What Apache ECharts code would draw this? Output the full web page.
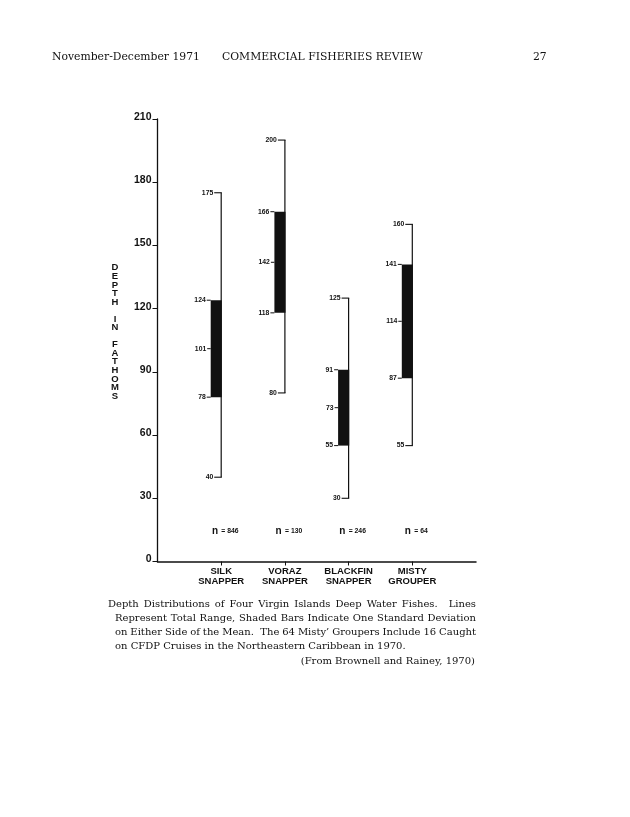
<!DOCTYPE html>
<html>
<head>
<meta charset="utf-8">
<script src="https://cdn.jsdelivr.net/npm/echarts@6/dist/echarts.min.js"></script>
<style>
html,body{margin:0;padding:0;background:#fff;}
#chart{width:630px;height:817px;}
</style>
</head>
<body>
<div id="chart"></div>
<script>
// ---- data ----
const categories = ['SILK\nSNAPPER', 'VORAZ\nSNAPPER', 'BLACKFIN\nSNAPPER', 'MISTY\nGROUPER'];
const positions = [1, 2, 3, 4];
const maxDepth = [175, 200, 125, 160];
const plusSD = [124, 166, 91, 141];
const meanDepth = [101, 142, 73, 114];
const minusSD = [78, 118, 55, 87];
const minDepth = [40, 80, 30, 55];
const sampleN = [846, 130, 246, 64];
const nLabelDepth = 14.5;
const yMin = 0, yMax = 210, yStep = 30;
const axisTitle = ['D','E','P','T','H','','I','N','','F','A','T','H','O','M','S'];
const headerLeft = 'November-December 1971';
const headerCenter = 'COMMERCIAL FISHERIES REVIEW';
const pageNumber = '27';
const captionLines = [
  'Depth Distributions of Four Virgin Islands Deep Water Fishes. Lines',
  'Represent Total Range, Shaded Bars Indicate One Standard Deviation',
  'on Either Side of the Mean. The 64 Misty\u2019 Groupers Include 16 Caught',
  'on CFDP Cruises in the Northeastern Caribbean in 1970.'
];
const sourceLine = '(From Brownell and Rainey, 1970)';

const INK = '#111';
const SANS = '"Liberation Sans", Arial, sans-serif';
const SERIF = '"DejaVu Serif", serif';

const chart = echarts.init(document.getElementById('chart'), null, {renderer: 'canvas'});

const seriesData = positions.map((p, i) => [p, minDepth[i], minusSD[i], meanDepth[i], plusSD[i], maxDepth[i], sampleN[i]]);

function label(text, x, y, align, size) {
  return {
    type: 'text',
    style: {
      text: String(text), x: x, y: y, align: align || 'right', verticalAlign: 'middle',
      fontSize: size || 6.8, fontWeight: 'bold', fontFamily: SANS, fill: INK
    }
  };
}
function seg(x1, y1, x2, y2, w) {
  return {type: 'line', shape: {x1: x1, y1: y1, x2: x2, y2: y2}, style: {stroke: INK, lineWidth: w || 1.1}};
}

function renderItem(params, api) {
  const xv = api.value(0);
  const pMin = api.coord([xv, api.value(1)]);
  const pLo = api.coord([xv, api.value(2)]);
  const pMean = api.coord([xv, api.value(3)]);
  const pHi = api.coord([xv, api.value(4)]);
  const pMax = api.coord([xv, api.value(5)]);
  const pN = api.coord([xv, nLabelDepth]);
  const x = pMax[0];
  const barW = 10.5;
  const xl = x - barW;
  const children = [
    seg(x, pMax[1], x, pMin[1], 1.2),
    seg(x - 7, pMax[1], x + 0.6, pMax[1]),
    seg(x - 7, pMin[1], x + 0.6, pMin[1]),
    {type: 'rect', shape: {x: xl, y: pHi[1], width: barW + 0.6, height: pLo[1] - pHi[1]}, style: {fill: INK}},
    seg(xl - 4, pHi[1], xl, pHi[1], 1),
    seg(xl - 4, pLo[1], xl, pLo[1], 1),
    seg(xl - 3.5, pMean[1], xl, pMean[1], 1),
    label(api.value(5), x - 8, pMax[1]),
    label(api.value(1), x - 8, pMin[1]),
    label(api.value(4), xl - 5, pHi[1]),
    label(api.value(2), xl - 5, pLo[1]),
    label(api.value(3), xl - 4.5, pMean[1]),
    {
      type: 'text',
      style: {
        text: '{a|n} {b|= ' + api.value(6) + '}',
        x: x + 4, y: pN[1], align: 'center', verticalAlign: 'middle',
        rich: {
          a: {fontSize: 10, fontWeight: 'bold', fontFamily: SANS, fill: INK},
          b: {fontSize: 6.8, fontWeight: 'bold', fontFamily: SANS, fill: INK}
        }
      }
    }
  ];
  return {type: 'group', children: children};
}

// text measurement for justified caption
const mctx = document.createElement('canvas').getContext('2d');
function measure(t, size) {
  mctx.font = size + 'px ' + SERIF;
  return mctx.measureText(t).width;
}

const graphics = [
  {type: 'text', left: 52, top: 52, style: {text: headerLeft, fontSize: 10.8, fontFamily: SERIF, fill: INK}},
  {type: 'text', left: 222, top: 52, style: {text: headerCenter, fontSize: 10.8, fontFamily: SERIF, fill: INK}},
  {type: 'text', left: 533, top: 52, style: {text: pageNumber, fontSize: 10.8, fontFamily: SERIF, fill: INK}},
  {type: 'text', x: 115, y: 263.5, style: {text: axisTitle.join('\n'), align: 'center', lineHeight: 8.55, fontSize: 9.5, fontWeight: 'bold', fontFamily: SANS, fill: INK}}
];

const capSize = 10;
const capRight = 476;
captionLines.forEach((t, i) => {
  const x0 = i === 0 ? 108 : 115;
  const y = 604 + i * 14;
  if (i < 3) {
    const words = t.split(' ');
    const widths = words.map(w => measure(w, capSize));
    const total = widths.reduce((a, b) => a + b, 0);
    // sentence breaks get a double gap
    const weights = words.slice(0, -1).map(w => /\.$/.test(w) ? 2.2 : 1);
    const wsum = weights.reduce((a, b) => a + b, 0);
    const unit = (capRight - x0 - total) / wsum;
    let cx = x0;
    words.forEach((w, k) => {
      graphics.push({type: 'text', x: cx, y: y, style: {text: w, verticalAlign: 'middle', fontSize: capSize, fontFamily: SERIF, fill: INK}});
      if (k < weights.length) cx += widths[k] + unit * weights[k];
    });
  } else {
    graphics.push({type: 'text', x: x0, y: y, style: {text: t, verticalAlign: 'middle', fontSize: capSize, fontFamily: SERIF, fill: INK}});
  }
});
graphics.push({type: 'text', x: 475, y: 661, style: {text: sourceLine, align: 'right', verticalAlign: 'middle', fontSize: capSize, fontFamily: SERIF, fill: INK}});

chart.setOption({
  animation: false,
  backgroundColor: '#fff',
  grid: {left: 157.5, right: 630 - 476, top: 119, bottom: 817 - 561.5},
  xAxis: {
    type: 'value', min: 0, max: 5, interval: 1,
    axisLine: {show: true, lineStyle: {color: INK, width: 1.5}},
    axisTick: {show: true, customValues: positions, length: 4, lineStyle: {color: INK, width: 1}},
    axisLabel: {
      show: true, customValues: positions, margin: 5,
      formatter: v => categories[Math.round(v) - 1] || '',
      fontSize: 9.5, fontWeight: 'bold', fontFamily: SANS, color: INK, lineHeight: 10
    },
    splitLine: {show: false}
  },
  yAxis: {
    type: 'value', min: yMin, max: yMax, interval: yStep,
    axisLine: {show: true, lineStyle: {color: INK, width: 1.3}},
    axisTick: {show: true, length: 5, lineStyle: {color: INK, width: 1}},
    axisLabel: {
      margin: 6, fontSize: 10.5, fontWeight: 'bold', fontFamily: SANS, color: INK,
      verticalAlign: 'bottom', lineHeight: 4
    },
    splitLine: {show: false}
  },
  graphic: graphics,
  series: [{
    type: 'custom',
    silent: true,
    renderItem: renderItem,
    encode: {x: 0, y: [1, 2, 3, 4, 5]},
    data: seriesData,
    clip: false
  }]
});
</script>
</body>
</html>
